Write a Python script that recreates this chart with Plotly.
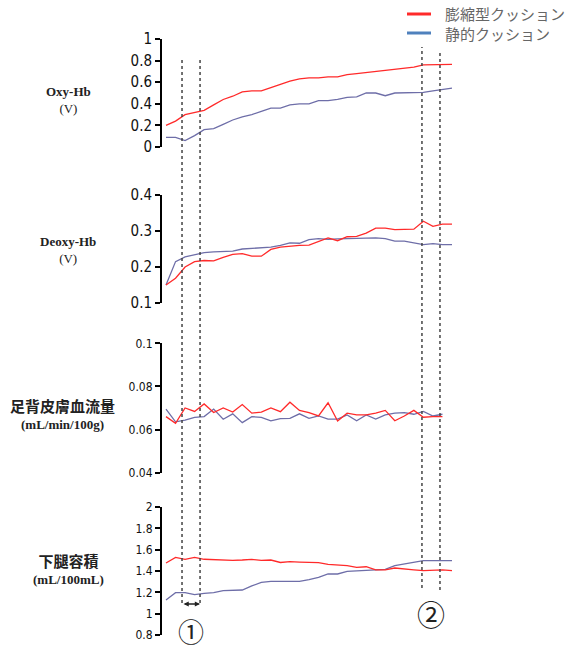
import plotly.graph_objects as go

W, H = 569, 648

# ---------------- data ----------------
t31 = list(range(31))
t30 = list(range(30))

oxy_inflate = [0.20, 0.24, 0.30, 0.32, 0.34, 0.39, 0.44, 0.47, 0.51, 0.52, 0.52, 0.55, 0.58, 0.61, 0.63,
               0.64, 0.64, 0.65, 0.65, 0.67, 0.68, 0.69, 0.70, 0.71, 0.715, 0.73, 0.74, 0.76, 0.76, 0.765, 0.765]
oxy_static = [0.09, 0.09, 0.06, 0.105, 0.16, 0.17, 0.21, 0.25, 0.28, 0.30, 0.33, 0.36, 0.36, 0.39, 0.40,
              0.40, 0.43, 0.43, 0.44, 0.46, 0.465, 0.50, 0.50, 0.475, 0.50, 0.50, 0.50, 0.505, 0.52, 0.535, 0.545]

deoxy_inflate = [0.150, 0.169, 0.200, 0.215, 0.218, 0.217, 0.227, 0.235, 0.237, 0.230, 0.230, 0.249, 0.255,
                 0.258, 0.260, 0.261, 0.272, 0.281, 0.273, 0.284, 0.285, 0.294, 0.308, 0.308, 0.304, 0.305,
                 0.305, 0.327, 0.313, 0.319, 0.319]
deoxy_static = [0.150, 0.215, 0.228, 0.235, 0.240, 0.242, 0.244, 0.244, 0.250, 0.251, 0.254, 0.255, 0.260,
                0.267, 0.266, 0.276, 0.279, 0.277, 0.278, 0.279, 0.279, 0.279, 0.281, 0.279, 0.272, 0.272,
                0.266, 0.262, 0.265, 0.262, 0.262]

flow_inflate = [0.0660, 0.0629, 0.0700, 0.0684, 0.0719, 0.0679, 0.0700, 0.0681, 0.0716, 0.0676, 0.0681,
                0.0700, 0.0683, 0.0727, 0.0689, 0.0679, 0.0663, 0.0724, 0.0640, 0.0676, 0.0668, 0.0668,
                0.0676, 0.0689, 0.0641, 0.0663, 0.0689, 0.0657, 0.0660, 0.0660]
flow_static = [0.0695, 0.0636, 0.0644, 0.0657, 0.0660, 0.0695, 0.0648, 0.0673, 0.0632, 0.0660, 0.0657,
               0.0640, 0.0651, 0.0652, 0.0673, 0.0652, 0.0663, 0.0648, 0.0648, 0.0668, 0.0641, 0.0668,
               0.0649, 0.0668, 0.0676, 0.0679, 0.0671, 0.0684, 0.0663, 0.0671]

vol_inflate = [1.475, 1.528, 1.510, 1.528, 1.510, 1.506, 1.506, 1.500, 1.503, 1.509, 1.500, 1.503, 1.480,
               1.487, 1.484, 1.478, 1.478, 1.462, 1.456, 1.450, 1.434, 1.440, 1.410, 1.410, 1.428, 1.416,
               1.410, 1.403, 1.410, 1.410, 1.403]
vol_static = [1.128, 1.197, 1.197, 1.178, 1.190, 1.197, 1.216, 1.222, 1.222, 1.260, 1.294, 1.303, 1.303,
              1.303, 1.303, 1.320, 1.340, 1.372, 1.372, 1.397, 1.400, 1.403, 1.410, 1.416, 1.450, 1.466,
              1.478, 1.497, 1.497, 1.497, 1.497]

series_names = ["膨縮型クッション", "静的クッション"]
phase_marks = [1.68, 3.57, 26.85, 28.74]
phase_labels = ["①", "②"]

y_ranges = [[0, 1], [0.1, 0.4], [0.04, 0.1], [0.8, 2.0]]
y_dticks = [0.2, 0.1, 0.02, 0.2]
panel_labels = [("Oxy-Hb", "(V)"), ("Deoxy-Hb", "(V)"), ("足背皮膚血流量", "(mL/min/100g)"),
                ("下腿容積", "(mL/100mL)")]

# ---------------- layout geometry (pixels of the page) ----------------
RED = "#ff2a2a"
BLUE = "#6e6ea8"
LEG_BLUE = "#4f81bd"

def py(p):
    return 1 - p / H

def px(p):
    return p / W

panel_px = [(39, 147), (195, 303), (343.3, 472.7), (507, 635)]
x_range = [-0.42, 30.5]
x_dom = [px(162), px(162 + (x_range[1] - x_range[0]) * 9.533)]

fig = go.Figure()

data = [
    (t31, oxy_inflate, oxy_static),
    (t31, deoxy_inflate, deoxy_static),
    (t30, flow_inflate, flow_static),
    (t31, vol_inflate, vol_static),
]

for k, (tx, a, b) in enumerate(data):
    xa = "x" if k == 0 else f"x{k+1}"
    ya = "y" if k == 0 else f"y{k+1}"
    fig.add_trace(go.Scatter(x=tx, y=b, mode="lines", line=dict(color=BLUE, width=1.3),
                             xaxis=xa, yaxis=ya, showlegend=False, hoverinfo="skip"))
    fig.add_trace(go.Scatter(x=tx, y=a, mode="lines", line=dict(color=RED, width=1.3),
                             xaxis=xa, yaxis=ya, showlegend=False, hoverinfo="skip"))

narrow = "Liberation Sans Narrow, DejaVu Sans Condensed, Arial Narrow"
tick_fonts = [
    dict(family=narrow, size=15, color="#111"),
    dict(family=narrow, size=15, color="#111"),
    dict(family=narrow, size=12, color="#111"),
    dict(family=narrow, size=12, color="#111"),
]

layout = dict(width=W, height=H, margin=dict(l=0, r=0, t=0, b=0, pad=0, autoexpand=False),
              paper_bgcolor="white", plot_bgcolor="rgba(0,0,0,0)", showlegend=False)

for k in range(4):
    xs = "xaxis" if k == 0 else f"xaxis{k+1}"
    ys = "yaxis" if k == 0 else f"yaxis{k+1}"
    top, bot = panel_px[k]
    layout[xs] = dict(domain=x_dom, range=x_range, visible=False, automargin=False,
                      anchor="y" if k == 0 else f"y{k+1}")
    layout[ys] = dict(domain=[py(bot), py(top)], range=y_ranges[k], dtick=y_dticks[k], tick0=0,
                      showline=True, linecolor="black", linewidth=2, ticks="outside", automargin=False,
                      ticklen=5, tickwidth=2, tickcolor="black", showgrid=False, zeroline=False,
                      tickfont=tick_fonts[k], anchor="x" if k == 0 else f"x{k+1}")

fig.update_layout(**layout)

# dashed phase markers
mark_extent = [(58, 603), (58, 603), (47, 588), (50, 590)]
for xm, (t0, t1) in zip(phase_marks, mark_extent):
    fig.add_shape(type="line", xref="x", yref="paper", x0=xm, x1=xm, y0=py(t1), y1=py(t0),
                  line=dict(color="#444", width=1.5, dash="3px,3px"))

# double arrow for phase 1
fig.add_annotation(x=phase_marks[1], y=py(604), xref="x4", yref="paper",
                   ax=phase_marks[0], ay=0, axref="x4", ayref="pixel",
                   showarrow=True, arrowhead=2, arrowsize=0.8, arrowwidth=1.3,
                   arrowside="end+start", arrowcolor="#222", text="")

fig.add_annotation(x=(phase_marks[0] + phase_marks[1]) / 2, y=py(630), xref="x4", yref="paper",
                   xanchor="center", yanchor="middle",
                   text=phase_labels[0], showarrow=False,
                   font=dict(family="Noto Sans CJK JP", size=26, color="#222"))
fig.add_annotation(x=(phase_marks[2] + phase_marks[3]) / 2, y=py(614), xref="x4", yref="paper",
                   xanchor="center", yanchor="middle",
                   text=phase_labels[1], showarrow=False,
                   font=dict(family="Noto Sans CJK JP", size=28, color="#222"))

# left labels (two lines per annotation)
serif = "Liberation Serif, DejaVu Serif, serif"
cjk = "Noto Sans CJK JP"
label_pos = [(68, 100), (68, 250), (62, 413), (68, 568)]
for k, ((l1, l2), (x1, y1)) in enumerate(zip(panel_labels, label_pos)):
    if k >= 2:
        txt = (f"<span style='font-family:{cjk};font-size:15px'><b>{l1}</b></span><br>"
               f"<b>{l2}</b>")
    else:
        txt = f"<b>{l1}</b><br>{l2}"
    fig.add_annotation(x=px(x1), y=py(y1), xref="paper", yref="paper", text=txt,
                       xanchor="center", yanchor="middle", showarrow=False,
                       font=dict(family=serif, size=13, color="#222"))

# custom legend
for i, (name, col, yy) in enumerate(zip(series_names, [RED, LEG_BLUE], [14, 33])):
    fig.add_shape(type="line", xref="paper", yref="paper", x0=px(407), x1=px(431), y0=py(yy), y1=py(yy),
                  line=dict(color=col, width=3))
    fig.add_annotation(x=px(443), y=py(yy), xref="paper", yref="paper", text=name,
                       xanchor="left", yanchor="middle",
                       showarrow=False, font=dict(family=cjk, size=15, color="#666"))

fig.write_html("out.html", config={"displayModeBar": False},
               post_script="document.body.style.margin='0px';")
